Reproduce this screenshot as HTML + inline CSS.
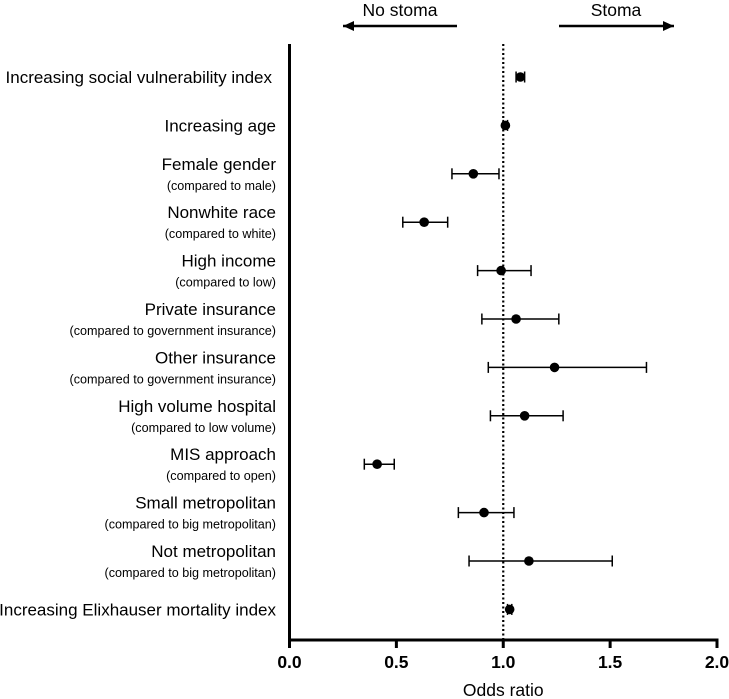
<!DOCTYPE html>
<html><head><meta charset="utf-8"><style>
body{margin:0;background:#fff}
svg{display:block;font-family:"Liberation Sans",Arial,sans-serif}
</style></head><body>
<svg id="chart" width="729" height="699" viewBox="0 0 729 699">
<g id="labels"></g>
<g id="marks"></g>
</svg>
<script>
const titles=["Increasing social vulnerability index","Increasing age","Female gender","Nonwhite race","High income","Private insurance","Other insurance","High volume hospital","MIS approach","Small metropolitan","Not metropolitan","Increasing Elixhauser mortality index"];
const subtitles=["","","(compared to male)","(compared to white)","(compared to low)","(compared to government insurance)","(compared to government insurance)","(compared to low volume)","(compared to open)","(compared to big metropolitan)","(compared to big metropolitan)",""];
const oddsRatios=[1.08,1.01,0.86,0.63,0.99,1.06,1.24,1.10,0.41,0.91,1.12,1.03];
const ciLow=[1.06,1.00,0.76,0.53,0.88,0.90,0.93,0.94,0.35,0.79,0.84,1.02];
const ciHigh=[1.10,1.02,0.98,0.74,1.13,1.26,1.67,1.28,0.49,1.05,1.51,1.04];
const tickLabels=["0.0","0.5","1.0","1.5","2.0"];
const tickValues=[0,0.5,1,1.5,2];

const NS="http://www.w3.org/2000/svg";
const svg=document.getElementById('chart');
const X0=289.5,X1=717,Y0=44,Y1=640;
const x=v=>X0+(v/2)*(X1-X0);
const rowY=i=>77+i*48.4;
function mk(tag,attrs,parent){const e=document.createElementNS(NS,tag);for(const k in attrs)e.setAttribute(k,attrs[k]);(parent||svg).appendChild(e);return e;}

let ax=mk('line',{x1:X0,y1:Y0,x2:X0,y2:Y1+1.5,stroke:'#000','stroke-width':3});


let xa=mk('line',{x1:X0-1.5,y1:Y1,x2:X1+1.5,y2:Y1,stroke:'#000','stroke-width':3});


tickValues.forEach((v,i)=>{
  const t=mk('line',{x1:x(v),y1:Y1,x2:x(v),y2:Y1+8,stroke:'#000','stroke-width':3});
  
  
  const tl=mk('text',{x:x(v),y:Y1+28,'text-anchor':'middle','font-size':17.5,'font-weight':'bold'});
  tl.textContent=tickLabels[i];
  
  
});
const xt=mk('text',{x:x(1),y:696,'text-anchor':'middle','font-size':17.5});
xt.textContent='Odds ratio';



const ref=mk('line',{x1:x(1),y1:Y0,x2:x(1),y2:Y1,stroke:'#000','stroke-width':2.2,'stroke-dasharray':'2 2.5'});



function arrow(xa1,xa2,name){
  const g=mk('g',{});
  
  
  mk('line',{x1:xa1,y1:26,x2:xa2,y2:26,stroke:'#000','stroke-width':2.5},g);
  const tip=xa2, d=xa2>xa1?-1:1;
  mk('polygon',{points:`${tip},26 ${tip+d*11},21 ${tip+d*11},31`,fill:'#000'},g);
}
arrow(457,343,'no-stoma-arrow');
arrow(559,674,'stoma-arrow');
const t1=mk('text',{x:400,y:16,'text-anchor':'middle','font-size':17.5});t1.textContent='No stoma';


const t2=mk('text',{x:616,y:16,'text-anchor':'middle','font-size':17.5});t2.textContent='Stoma';



const lg=document.getElementById('labels');
titles.forEach((tt,i)=>{
  const y=rowY(i);
  const hasSub=subtitles[i]!=='';
  const rx=(i===0)?272:276;
  const t=mk('text',{x:rx,y:hasSub?y-4:y+6,'font-size':17,'text-anchor':'end'},lg);
  t.textContent=tt;
  
  
  if(hasSub){
    const s=mk('text',{x:276,y:y+16,'font-size':12.6,'text-anchor':'end'},lg);
    s.textContent=subtitles[i];
    
    
  }
});

const mg=document.getElementById('marks');
oddsRatios.forEach((v,i)=>{
  const y=rowY(i);
  const g=mk('g',{},mg);
  
  
  const a=x(ciLow[i]),b=x(ciHigh[i]);
  mk('line',{x1:a,y1:y,x2:b,y2:y,stroke:'#000','stroke-width':1.5},g);
  mk('line',{x1:a,y1:y-5.5,x2:a,y2:y+5.5,stroke:'#000','stroke-width':1.5},g);
  mk('line',{x1:b,y1:y-5.5,x2:b,y2:y+5.5,stroke:'#000','stroke-width':1.5},g);
  const c=mk('circle',{cx:x(v),cy:y,r:4.8,fill:'#000'},g);
  
  
});
</script>
</body></html>
